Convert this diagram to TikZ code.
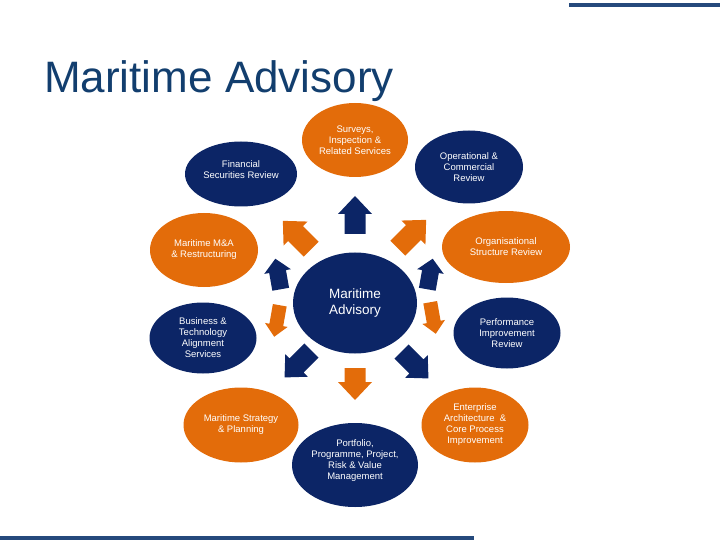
\documentclass[tikz,border=0pt]{standalone}
\usepackage{fontspec}
\setmainfont{Liberation Sans}
\usetikzlibrary{shapes.geometric}
\definecolor{mnavy}{HTML}{0C2566}
\definecolor{morange}{HTML}{E36C0A}
\definecolor{mtitle}{HTML}{123E6E}
\definecolor{mline}{HTML}{25497C}
\newcommand\blockarrow[8]{%
  \begin{scope}[shift={(#1,#2)},rotate=#3]
    \fill[#8] ({-#4/2},{-#5/2}) -- ({#4/2-#7},{-#5/2}) -- ({#4/2-#7},{-#6/2}) -- ({#4/2},0)
      -- ({#4/2-#7},{#6/2}) -- ({#4/2-#7},{#5/2}) -- ({-#4/2},{#5/2}) -- cycle;
  \end{scope}}
\begin{document}
\begin{tikzpicture}[x=1bp,y=-1bp,
  oval/.style={ellipse, inner sep=0pt, outer sep=0pt, text=white, align=center,
    font=\fontsize{9.5bp}{11bp}\selectfont},
  nv/.style={oval, fill=mnavy},
  og/.style={oval, fill=morange},
  txt/.style={inner sep=0pt, text=white, align=center, font=\fontsize{9.5bp}{11bp}\selectfont}]
\useasboundingbox (0,0) rectangle (720,540);
% decorative lines
\fill[mline] (569,3) rectangle (720,7.5);
\fill[mline] (0,535.5) rectangle (474,540);
% title
\node[anchor=base west, inner sep=0pt, text=mtitle, font=\fontsize{44bp}{50bp}\selectfont] (title) at (44,93) {Maritime Advisory};
% ellipses
\node[og, minimum width=106bp, minimum height=74bp] (surv) at (355,140) {Surveys,\\Inspection \&\\Related Services};
\node[nv, minimum width=112bp, minimum height=65bp] (fin) at (241,174) {};
\node[txt] (fint) at (241,170) {Financial\\Securities Review};
\node[nv, minimum width=108bp, minimum height=73bp] (oper) at (469,167) {Operational \&\\Commercial\\Review};
\node[og, minimum width=108bp, minimum height=74bp] (mna) at (204,250) {Maritime M\&A\\\& Restructuring};
\node[og, minimum width=128bp, minimum height=72bp] (org) at (506,247) {Organisational\\Structure Review};
\node[nv, minimum width=107bp, minimum height=71bp] (bus) at (203,338) {Business \&\\Technology\\Alignment\\Services};
\node[nv, minimum width=107bp, minimum height=71bp] (perf) at (507,333) {Performance\\Improvement\\Review};
\node[nv, minimum width=124bp, minimum height=101bp, font=\fontsize{13.5bp}{15.5bp}\selectfont] (core) at (355,303) {Maritime\\Advisory};
\node[og, minimum width=115bp, minimum height=75bp] (strat) at (241,425) {Maritime Strategy\\\& Planning};
\node[nv, minimum width=126bp, minimum height=84bp] (port) at (355,465) {};
\node[txt] (portt) at (355,461) {Portfolio,\\Programme, Project,\\Risk \& Value\\Management};
\node[og, minimum width=107bp, minimum height=75bp] (ent) at (475,425) {Enterprise\\Architecture \ \&\\Core Process\\Improvement};
% block arrows
\blockarrow{355}{215}{90}{38}{21}{34}{18}{mnavy}
\blockarrow{355}{384}{270}{32}{21}{34}{18}{morange}
\blockarrow{297}{235}{135}{40}{21}{34}{18}{morange}
\blockarrow{412}{234}{45}{40}{21}{34}{18}{morange}
\blockarrow{298}{364}{225}{38}{20}{32}{17}{mnavy}
\blockarrow{415}{365}{315}{38}{20}{32}{17}{mnavy}
\blockarrow{278}{274}{100}{31}{17}{27}{13}{mnavy}
\blockarrow{430}{274}{80}{31}{17}{27}{13}{mnavy}
\blockarrow{277}{321}{260}{32}{14}{23}{12}{morange}
\blockarrow{433}{318}{280}{32}{14}{23}{12}{morange}
\end{tikzpicture}
\end{document}
